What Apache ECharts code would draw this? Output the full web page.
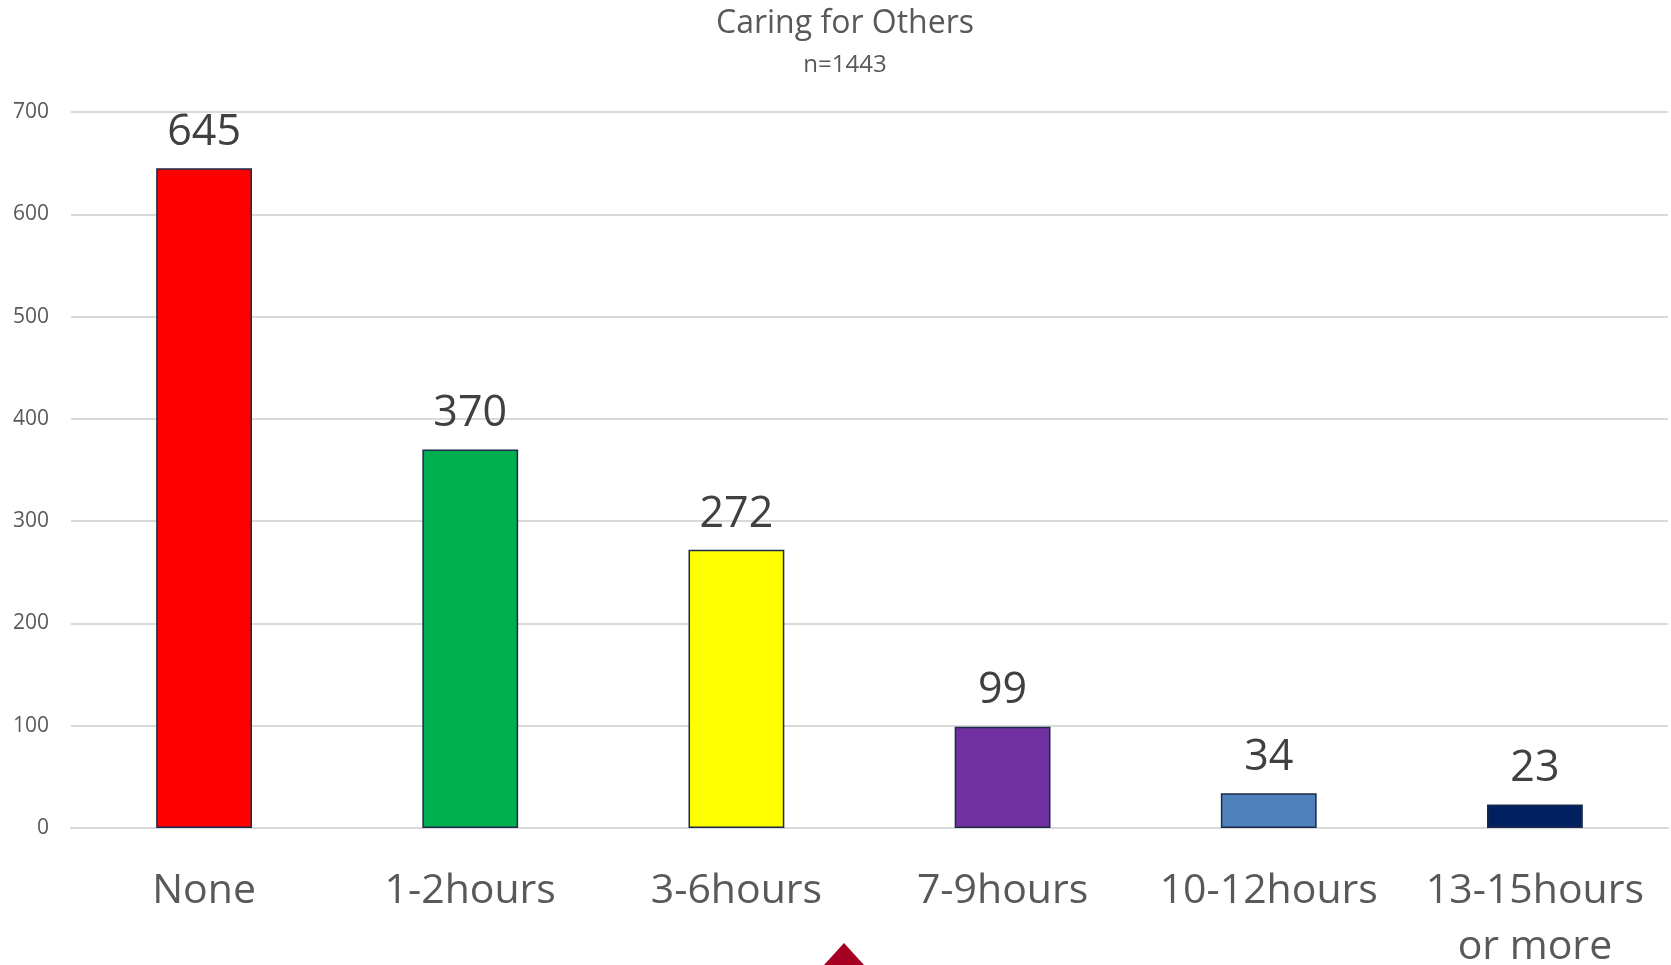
<!DOCTYPE html>
<html>
<head>
<meta charset="utf-8">
<script src="https://cdn.jsdelivr.net/npm/echarts@6/dist/echarts.min.js"></script>
<style>
  html, body { margin: 0; padding: 0; background: #fff; }
  #main { width: 1671px; height: 965px; }
</style>
</head>
<body>
<div id="main"></div>
<script>
// chart data
var categories = ['None', '1-2hours', '3-6hours', '7-9hours', '10-12hours', '13-15hours\nor more']
var counts = [645, 370, 272, 99, 34, 23]
var barColors = ['#FF0000', '#00B050', '#FFFF00', '#7030A0', '#4F81BD', '#002060']
var yTicks = { min: 0, max: 700, step: 100 }

var font = '"Open Sans", "Noto Sans", sans-serif'
var myChart = echarts.init(document.getElementById('main'))

myChart.setOption({
  animation: false,
  grid: {
    left: 71,
    right: 3,
    top: 112,
    bottom: 137,
    outerBoundsMode: 'none'
  },
  xAxis: {
    type: 'category',
    data: categories,
    axisLine: { show: true, lineStyle: { color: '#d9d9d9', width: 2 } },
    axisTick: { show: false },
    axisLabel: {
      interval: 0,
      margin: 35,
      fontFamily: font,
      fontSize: 41,
      lineHeight: 56,
      color: '#595959'
    }
  },
  yAxis: {
    type: 'value',
    min: yTicks.min,
    max: yTicks.max,
    interval: yTicks.step,
    axisLine: { show: false },
    axisTick: { show: false },
    axisLabel: { margin: 22, fontFamily: font, fontSize: 21, color: '#595959' },
    splitLine: { lineStyle: { color: '#d9d9d9', width: 2 } }
  },
  series: [
    {
      type: 'bar',
      barWidth: '36%',
      data: counts.map(function (v, i) {
        return { value: v, itemStyle: { color: barColors[i] } }
      }),
      itemStyle: { borderColor: '#1b2a4a', borderWidth: 1.5 },
      label: {
        show: true,
        position: 'top',
        distance: 14,
        fontFamily: font,
        fontSize: 43,
        color: '#404040'
      }
    }
  ],
  graphic: [
    // title sits a little right of the chart centre, so place it by hand
    {
      type: 'text',
      x: 845,
      y: 24,
      style: {
        text: 'Caring for Others',
        fontFamily: font,
        fontSize: 32,
        fill: '#595959',
        textAlign: 'center',
        textVerticalAlign: 'middle'
      }
    },
    {
      type: 'text',
      x: 845,
      y: 65,
      style: {
        text: 'n=1443',
        fontFamily: font,
        fontSize: 24,
        fill: '#595959',
        textAlign: 'center',
        textVerticalAlign: 'middle'
      }
    },
    {
      // red marker at the bottom edge of the slide
      type: 'polygon',
      shape: { points: [[844, 943], [824, 965], [864, 965]] },
      style: { fill: '#A50021' }
    }
  ]
})
</script>
</body>
</html>
